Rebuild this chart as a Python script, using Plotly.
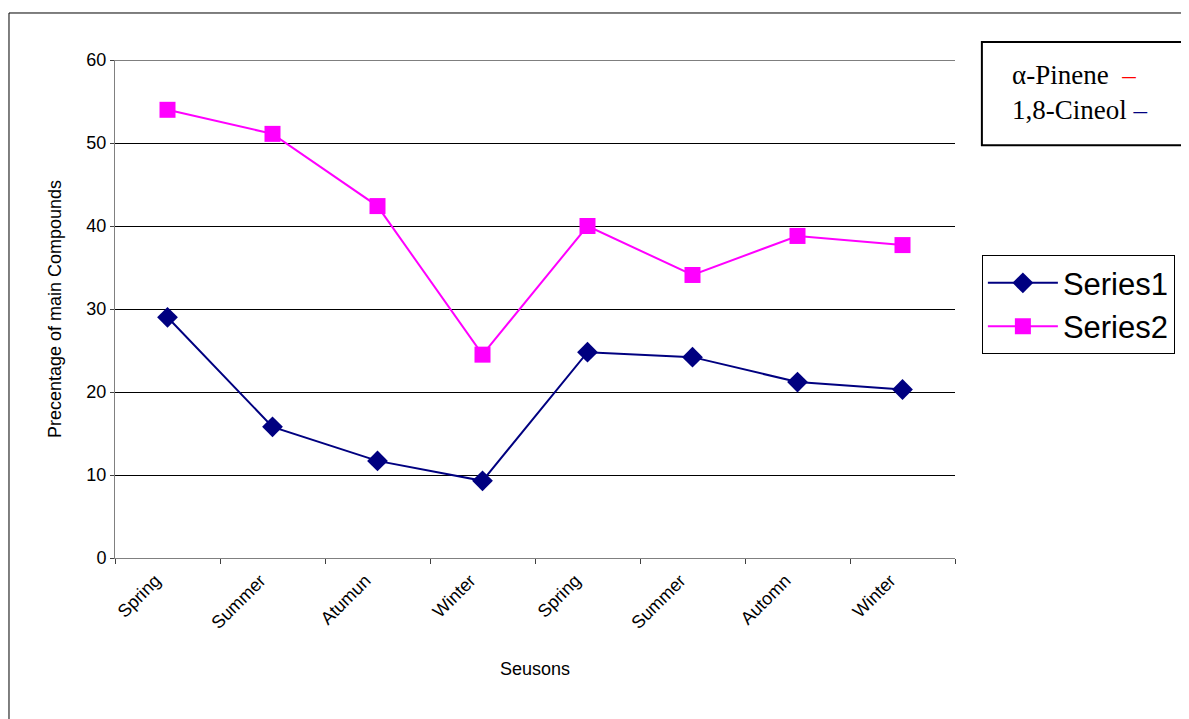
import plotly.graph_objects as go

seasons = ["Spring", "Summer", "Atumun", "Winter", "Spring", "Summer", "Automn", "Winter"]
series1 = [29.0, 15.8, 11.7, 9.3, 24.8, 24.2, 21.2, 20.3]
series2 = [54.0, 51.1, 42.4, 24.5, 40.0, 34.1, 38.8, 37.7]
y_ticks = [0, 10, 20, 30, 40, 50, 60]

# categories repeat, so plot on index positions and label them
x_pos = list(range(len(seasons)))

fig = go.Figure()
fig.add_trace(go.Scatter(
    x=x_pos, y=series1, name="Series1", mode="lines+markers",
    line=dict(color="#000080", width=2),
    marker=dict(symbol="diamond", size=16, color="#000080"),
))
fig.add_trace(go.Scatter(
    x=x_pos, y=series2, name="Series2", mode="lines+markers",
    line=dict(color="#FF00FF", width=2),
    marker=dict(symbol="square", size=16, color="#FF00FF"),
))

# page body adds an 8px offset, so the figure is a bit smaller than the window
fig.update_layout(
    width=1181,
    height=711,
    margin=dict(l=107, r=234, t=52, b=161, autoexpand=False),
    plot_bgcolor="white",
    paper_bgcolor="white",
    font=dict(family="Arial, Liberation Sans", size=18, color="black"),
    legend=dict(
        x=1.032, y=0.608, xanchor="left", yanchor="top",
        font=dict(size=31, family="Arial, Liberation Sans"),
        bordercolor="black", borderwidth=1, bgcolor="white",
        itemwidth=70,
    ),
)

fig.update_xaxes(
    range=[-0.5, len(seasons) - 0.5],
    tickmode="array", tickvals=x_pos, ticktext=seasons,
    tickangle=-45, showgrid=False,
    ticklabelshift=-12, ticklabelstandoff=4,
    showline=True, linecolor="#808080", linewidth=1,
    ticks="", zeroline=False,
    title=dict(text="Seusons", font=dict(size=18), standoff=30),
    minor=dict(tickmode="array", tickvals=[i - 0.5 for i in range(len(seasons) + 1)],
               ticks="outside", ticklen=5, tickcolor="#404040", showgrid=False),
)
fig.update_yaxes(
    range=[0, 60], tickvals=y_ticks,
    showgrid=True, gridcolor="black", gridwidth=1,
    showline=True, linecolor="#808080", linewidth=1,
    ticks="outside", ticklen=4, tickcolor="#404040",
    zeroline=False,
    title=dict(text="Precentage of main Compounds", font=dict(size=18), standoff=20),
)

# plotly drops the gridline at the top edge of the range, so draw it
fig.add_shape(type="line", xref="paper", yref="y", x0=0, x1=1,
              y0=y_ticks[-1], y1=y_ticks[-1], line=dict(color="black", width=1))

# outer frame
fig.add_shape(type="rect", xref="paper", yref="paper",
              x0=-0.1262, y0=-0.4, x1=1.5, y1=1.0944,
              line=dict(color="black", width=1), layer="below")
# compound key box
fig.add_shape(type="rect", xref="paper", yref="paper",
              x0=1.032, y0=0.829, x1=1.5, y1=1.036,
              line=dict(color="black", width=2))
fig.add_annotation(
    xref="paper", yref="paper", x=1.065, y=0.97, xanchor="left", yanchor="middle",
    text="α-Pinene  <span style='color:red'>–</span>", showarrow=False,
    font=dict(family="Times New Roman, Liberation Serif", size=27, color="black"),
)
fig.add_annotation(
    xref="paper", yref="paper", x=1.065, y=0.9, xanchor="left", yanchor="middle",
    text="1,8-Cineol <span style='color:#000080'>–</span>", showarrow=False,
    font=dict(family="Times New Roman, Liberation Serif", size=27, color="black"),
)

fig.write_html("out.html")
